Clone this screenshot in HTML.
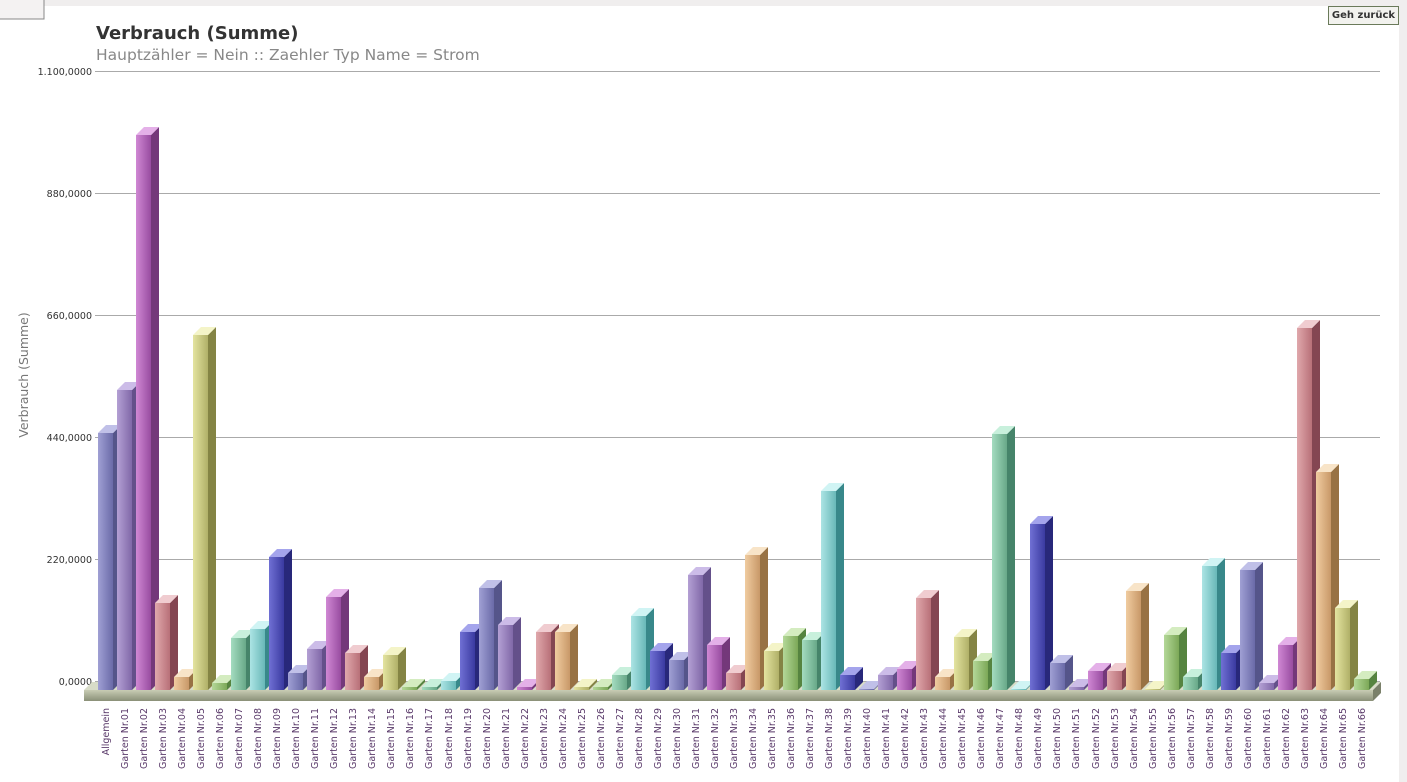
<!DOCTYPE html>
<html><head><meta charset="utf-8"><style>
html,body{margin:0;padding:0;width:1407px;height:782px;overflow:hidden;background:#fff;font-family:"DejaVu Sans","Liberation Sans",sans-serif}
.t{font-size:9.5px;fill:#5a3a6a;font-family:"DejaVu Sans",sans-serif}
</style></head><body>
<svg width="1407" height="782" xmlns="http://www.w3.org/2000/svg" style="position:absolute;left:0;top:0">
<defs>
<linearGradient id="fl" x1="0" y1="0" x2="0" y2="1"><stop offset="0" stop-color="#c8ccb4"/><stop offset="1" stop-color="#8a9078"/></linearGradient>
</defs>
<rect x="0" y="0" width="1407" height="6" fill="#f0eeee"/>
<rect x="1399" y="0" width="8" height="782" fill="#f0eeee"/>
<rect x="-1" y="-1" width="45" height="20" fill="#f4f2f2" stroke="#888" stroke-width="1"/>
<text x="96" y="39" font-size="18" font-weight="bold" fill="#333">Verbrauch (Summe)</text>
<text x="96" y="60" font-size="15.5" fill="#888">Hauptzähler = Nein :: Zaehler Typ Name = Strom</text>
<g stroke="#aaa" stroke-width="1">
<line x1="95" y1="71.5" x2="1380" y2="71.5"/><line x1="95" y1="193.5" x2="1380" y2="193.5"/><line x1="95" y1="315.5" x2="1380" y2="315.5"/><line x1="95" y1="437.5" x2="1380" y2="437.5"/><line x1="95" y1="559.5" x2="1380" y2="559.5"/><line x1="95" y1="681.5" x2="1380" y2="681.5"/>
</g>
<g font-size="9.5" fill="#333" text-anchor="end">
<text x="92" y="75">1.100,0000</text><text x="92" y="197">880,0000</text><text x="92" y="319">660,0000</text><text x="92" y="441">440,0000</text><text x="92" y="563">220,0000</text><text x="92" y="685">0,0000</text>
</g>
<text transform="translate(28,375) rotate(-90)" font-size="12.5" fill="#777" text-anchor="middle">Verbrauch (Summe)</text>
<polygon points="92,682 1381,682 1373,690 84,690" fill="#d8dcc8"/>
<rect x="84" y="690" width="1289" height="11" fill="url(#fl)"/>
<polygon points="1373,690 1381,682 1381,693 1373,701" fill="#7a806a"/>
</svg>
<div style="position:absolute;left:1328px;top:6px;width:69px;height:17px;border:1px solid #6a7a5a;background:#f2f2ee;font-size:10px;font-weight:bold;color:#333;text-align:center;line-height:17px">Geh zurück</div>
<svg width="1407" height="782" xmlns="http://www.w3.org/2000/svg" style="position:absolute;left:0;top:0">
<defs>
<linearGradient id="h0"><stop offset="0" stop-color="#a0a0d4"/><stop offset="1" stop-color="#6a6aa8"/></linearGradient>
<linearGradient id="h1"><stop offset="0" stop-color="#b4a0d4"/><stop offset="1" stop-color="#8068a8"/></linearGradient>
<linearGradient id="h2"><stop offset="0" stop-color="#d088d4"/><stop offset="1" stop-color="#984ca0"/></linearGradient>
<linearGradient id="h3"><stop offset="0" stop-color="#e0a8ac"/><stop offset="1" stop-color="#b87078"/></linearGradient>
<linearGradient id="h4"><stop offset="0" stop-color="#f0cca0"/><stop offset="1" stop-color="#c89868"/></linearGradient>
<linearGradient id="h5"><stop offset="0" stop-color="#e4e4a0"/><stop offset="1" stop-color="#b0b068"/></linearGradient>
<linearGradient id="h6"><stop offset="0" stop-color="#b4d898"/><stop offset="1" stop-color="#7ca858"/></linearGradient>
<linearGradient id="h7"><stop offset="0" stop-color="#a4dcc0"/><stop offset="1" stop-color="#68a888"/></linearGradient>
<linearGradient id="h8"><stop offset="0" stop-color="#ace4e4"/><stop offset="1" stop-color="#68b8b8"/></linearGradient>
<linearGradient id="h9"><stop offset="0" stop-color="#7070d4"/><stop offset="1" stop-color="#3a3aa0"/></linearGradient>
</defs>
<g id="out"></g>
<g class="labels">
<text class="t" text-anchor="end" transform="translate(109,708) rotate(-90)">Allgemein</text>
<text class="t" text-anchor="end" transform="translate(128,708) rotate(-90)">Garten Nr.01</text>
<text class="t" text-anchor="end" transform="translate(147,708) rotate(-90)">Garten Nr.02</text>
<text class="t" text-anchor="end" transform="translate(166,708) rotate(-90)">Garten Nr.03</text>
<text class="t" text-anchor="end" transform="translate(185,708) rotate(-90)">Garten Nr.04</text>
<text class="t" text-anchor="end" transform="translate(204,708) rotate(-90)">Garten Nr.05</text>
<text class="t" text-anchor="end" transform="translate(223,708) rotate(-90)">Garten Nr.06</text>
<text class="t" text-anchor="end" transform="translate(242,708) rotate(-90)">Garten Nr.07</text>
<text class="t" text-anchor="end" transform="translate(261,708) rotate(-90)">Garten Nr.08</text>
<text class="t" text-anchor="end" transform="translate(280,708) rotate(-90)">Garten Nr.09</text>
<text class="t" text-anchor="end" transform="translate(299,708) rotate(-90)">Garten Nr.10</text>
<text class="t" text-anchor="end" transform="translate(318,708) rotate(-90)">Garten Nr.11</text>
<text class="t" text-anchor="end" transform="translate(337,708) rotate(-90)">Garten Nr.12</text>
<text class="t" text-anchor="end" transform="translate(356,708) rotate(-90)">Garten Nr.13</text>
<text class="t" text-anchor="end" transform="translate(375,708) rotate(-90)">Garten Nr.14</text>
<text class="t" text-anchor="end" transform="translate(394,708) rotate(-90)">Garten Nr.15</text>
<text class="t" text-anchor="end" transform="translate(413,708) rotate(-90)">Garten Nr.16</text>
<text class="t" text-anchor="end" transform="translate(432,708) rotate(-90)">Garten Nr.17</text>
<text class="t" text-anchor="end" transform="translate(452,708) rotate(-90)">Garten Nr.18</text>
<text class="t" text-anchor="end" transform="translate(471,708) rotate(-90)">Garten Nr.19</text>
<text class="t" text-anchor="end" transform="translate(490,708) rotate(-90)">Garten Nr.20</text>
<text class="t" text-anchor="end" transform="translate(509,708) rotate(-90)">Garten Nr.21</text>
<text class="t" text-anchor="end" transform="translate(528,708) rotate(-90)">Garten Nr.22</text>
<text class="t" text-anchor="end" transform="translate(547,708) rotate(-90)">Garten Nr.23</text>
<text class="t" text-anchor="end" transform="translate(566,708) rotate(-90)">Garten Nr.24</text>
<text class="t" text-anchor="end" transform="translate(585,708) rotate(-90)">Garten Nr.25</text>
<text class="t" text-anchor="end" transform="translate(604,708) rotate(-90)">Garten Nr.26</text>
<text class="t" text-anchor="end" transform="translate(623,708) rotate(-90)">Garten Nr.27</text>
<text class="t" text-anchor="end" transform="translate(642,708) rotate(-90)">Garten Nr.28</text>
<text class="t" text-anchor="end" transform="translate(661,708) rotate(-90)">Garten Nr.29</text>
<text class="t" text-anchor="end" transform="translate(680,708) rotate(-90)">Garten Nr.30</text>
<text class="t" text-anchor="end" transform="translate(699,708) rotate(-90)">Garten Nr.31</text>
<text class="t" text-anchor="end" transform="translate(718,708) rotate(-90)">Garten Nr.32</text>
<text class="t" text-anchor="end" transform="translate(737,708) rotate(-90)">Garten Nr.33</text>
<text class="t" text-anchor="end" transform="translate(756,708) rotate(-90)">Garten Nr.34</text>
<text class="t" text-anchor="end" transform="translate(775,708) rotate(-90)">Garten Nr.35</text>
<text class="t" text-anchor="end" transform="translate(794,708) rotate(-90)">Garten Nr.36</text>
<text class="t" text-anchor="end" transform="translate(813,708) rotate(-90)">Garten Nr.37</text>
<text class="t" text-anchor="end" transform="translate(832,708) rotate(-90)">Garten Nr.38</text>
<text class="t" text-anchor="end" transform="translate(851,708) rotate(-90)">Garten Nr.39</text>
<text class="t" text-anchor="end" transform="translate(870,708) rotate(-90)">Garten Nr.40</text>
<text class="t" text-anchor="end" transform="translate(889,708) rotate(-90)">Garten Nr.41</text>
<text class="t" text-anchor="end" transform="translate(908,708) rotate(-90)">Garten Nr.42</text>
<text class="t" text-anchor="end" transform="translate(927,708) rotate(-90)">Garten Nr.43</text>
<text class="t" text-anchor="end" transform="translate(946,708) rotate(-90)">Garten Nr.44</text>
<text class="t" text-anchor="end" transform="translate(965,708) rotate(-90)">Garten Nr.45</text>
<text class="t" text-anchor="end" transform="translate(984,708) rotate(-90)">Garten Nr.46</text>
<text class="t" text-anchor="end" transform="translate(1003,708) rotate(-90)">Garten Nr.47</text>
<text class="t" text-anchor="end" transform="translate(1022,708) rotate(-90)">Garten Nr.48</text>
<text class="t" text-anchor="end" transform="translate(1041,708) rotate(-90)">Garten Nr.49</text>
<text class="t" text-anchor="end" transform="translate(1060,708) rotate(-90)">Garten Nr.50</text>
<text class="t" text-anchor="end" transform="translate(1079,708) rotate(-90)">Garten Nr.51</text>
<text class="t" text-anchor="end" transform="translate(1099,708) rotate(-90)">Garten Nr.52</text>
<text class="t" text-anchor="end" transform="translate(1118,708) rotate(-90)">Garten Nr.53</text>
<text class="t" text-anchor="end" transform="translate(1137,708) rotate(-90)">Garten Nr.54</text>
<text class="t" text-anchor="end" transform="translate(1156,708) rotate(-90)">Garten Nr.55</text>
<text class="t" text-anchor="end" transform="translate(1175,708) rotate(-90)">Garten Nr.56</text>
<text class="t" text-anchor="end" transform="translate(1194,708) rotate(-90)">Garten Nr.57</text>
<text class="t" text-anchor="end" transform="translate(1213,708) rotate(-90)">Garten Nr.58</text>
<text class="t" text-anchor="end" transform="translate(1232,708) rotate(-90)">Garten Nr.59</text>
<text class="t" text-anchor="end" transform="translate(1251,708) rotate(-90)">Garten Nr.60</text>
<text class="t" text-anchor="end" transform="translate(1270,708) rotate(-90)">Garten Nr.61</text>
<text class="t" text-anchor="end" transform="translate(1289,708) rotate(-90)">Garten Nr.62</text>
<text class="t" text-anchor="end" transform="translate(1308,708) rotate(-90)">Garten Nr.63</text>
<text class="t" text-anchor="end" transform="translate(1327,708) rotate(-90)">Garten Nr.64</text>
<text class="t" text-anchor="end" transform="translate(1346,708) rotate(-90)">Garten Nr.65</text>
<text class="t" text-anchor="end" transform="translate(1365,708) rotate(-90)">Garten Nr.66</text>
</g>
</svg>
<script>
var tops=[433,390,135,603,677,335,683,638,629,557,673,649,597,653,677,655,687,687,681,632,588,625,687,632,632,687,687,675,616,651,660,575,645,673,555,651,636,640,491,675,689,675,669,598,677,637,661,434,689,524,663,687,671,671,591,689,635,677,566,653,570,683,645,328,472,608,679];
var side=["#55558a","#64508a","#74387a","#844652","#987244","#848444","#568440","#46846a","#38888a","#28287a"];
var topc=["#c0c0e8","#ccbce8","#e4b0e8","#f0ccd0","#f8e4c8","#f4f4c8","#d4ecc0","#c8f0dc","#d0f4f4","#a4a4ec"];
var s="",B=690,w=15,d=8;
for(var i=0;i<tops.length;i++){var x=Math.round(98+19.03*i),t=tops[i],c=i%10;
s+='<rect x="'+x+'" y="'+t+'" width="'+w+'" height="'+(B-t)+'" fill="url(#h'+c+')"/>';
s+='<polygon points="'+(x+w)+','+t+' '+(x+w+d)+','+(t-d)+' '+(x+w+d)+','+(B-d)+' '+(x+w)+','+B+'" fill="'+side[c]+'"/>';
s+='<polygon points="'+x+','+t+' '+(x+d)+','+(t-d)+' '+(x+w+d)+','+(t-d)+' '+(x+w)+','+t+'" fill="'+topc[c]+'"/>';}
document.getElementById("out").innerHTML=s;
</script>
</body></html>
